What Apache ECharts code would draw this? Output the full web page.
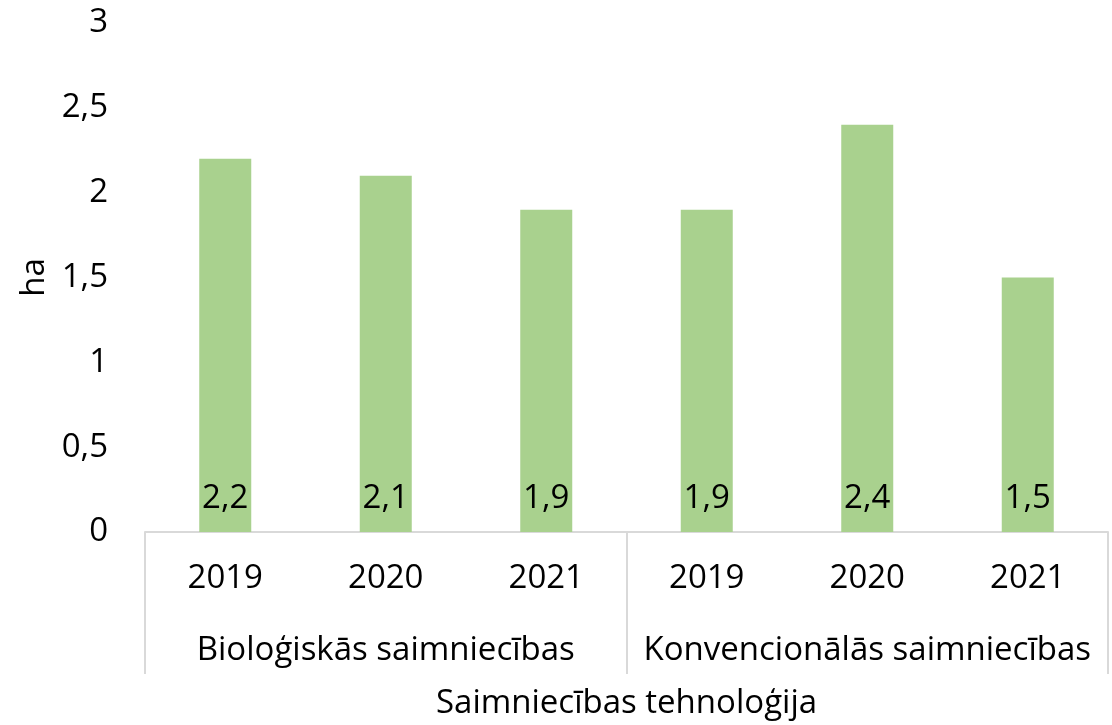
<!DOCTYPE html>
<html>
<head>
<meta charset="utf-8">
<script src="https://cdn.jsdelivr.net/npm/echarts@6/dist/echarts.min.js"></script>
<style>html,body{margin:0;padding:0;background:#fff}#c{width:1112px;height:725px}</style>
</head>
<body>
<div id="c"></div>
<script>
var years = ['2019', '2020', '2021', '2019', '2020', '2021'];
var groups = ['Bioloģiskās saimniecības', 'Konvencionālās saimniecības'];
var values = [2.2, 2.1, 1.9, 1.9, 2.4, 1.5];
var yTicks = { min: 0, max: 3, interval: 0.5 };
var yName = 'ha';
var xName = 'Saimniecības tehnoloģija';

var FONT = 'Open Sans';
var FS = 33;
var chart = echarts.init(document.getElementById('c'), null, { renderer: 'canvas' });
function fmt(v) { return String(v).replace('.', ','); }
chart.setOption({
  animation: false,
  textStyle: { fontFamily: FONT },
  grid: { left: 145, right: 4, top: 23, bottom: 188, containLabel: false },
  xAxis: [
    {
      type: 'category', data: years, position: 'bottom',
      axisLine: { show: true, lineStyle: { color: '#D9D9D9', width: 2 } },
      axisTick: { show: false },
      axisLabel: { color: '#000', fontSize: FS, fontFamily: FONT, margin: 30, interval: 0 }
    },
    {
      type: 'category', data: groups, position: 'bottom', offset: 0,
      axisLine: { show: false },
      axisTick: { show: true, length: 142, lineStyle: { color: '#D9D9D9', width: 2 } },
      axisLabel: { color: '#000', fontSize: FS, fontFamily: FONT, margin: 102, interval: 0 },
      name: xName, nameLocation: 'middle', nameGap: 155,
      nameTextStyle: { color: '#000', fontSize: FS, fontFamily: FONT }
    }
  ],
  yAxis: {
    type: 'value', min: yTicks.min, max: yTicks.max, interval: yTicks.interval,
    axisLine: { show: false }, axisTick: { show: false }, splitLine: { show: false },
    axisLabel: { color: '#000', fontSize: FS, fontFamily: FONT, margin: 37, formatter: fmt },
    name: yName, nameLocation: 'middle', nameRotate: 90, nameGap: 88,
    nameTextStyle: { color: '#000', fontSize: FS, fontFamily: FONT }
  },
  series: [{
    type: 'bar', xAxisIndex: 0, data: values, barWidth: 52,
    itemStyle: { color: '#A9D18E' },
    label: {
      show: true, position: 'insideBottom', distance: 17, color: '#000',
      fontSize: FS, fontFamily: FONT,
      formatter: function (p) { return fmt(p.value); }
    }
  }]
});
</script>
</body>
</html>
